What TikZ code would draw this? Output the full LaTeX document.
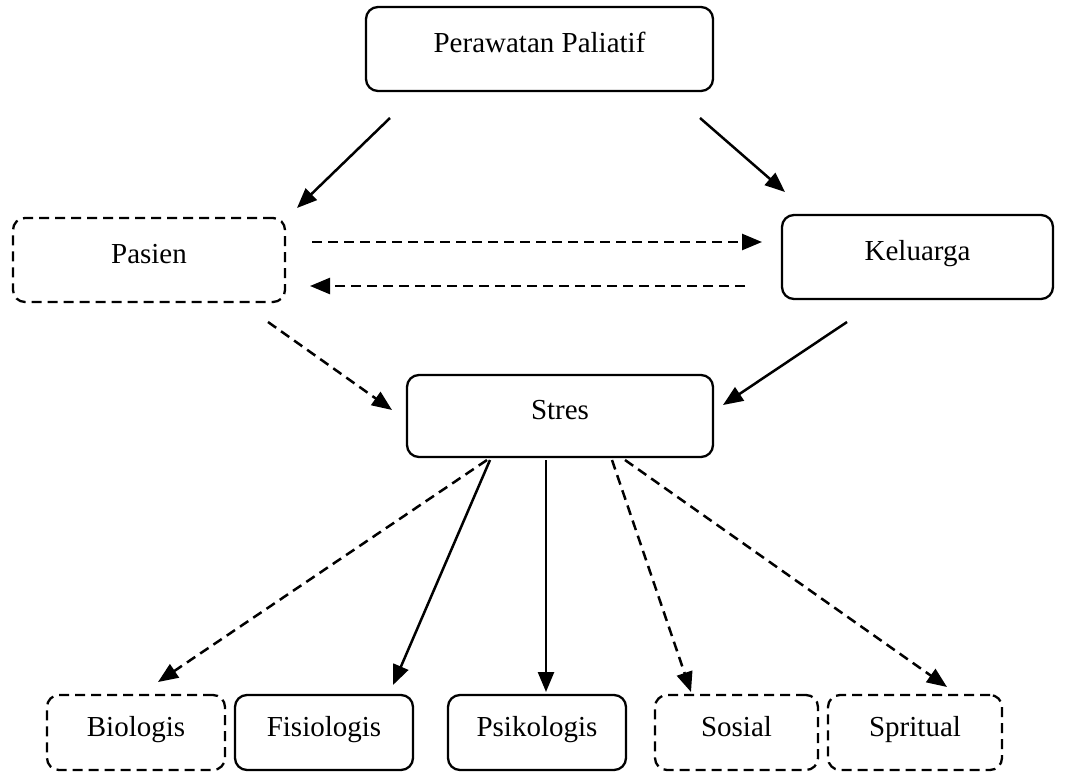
\documentclass[tikz,border=0pt]{standalone}
\usepackage{fontspec}
\setmainfont{Liberation Serif}
\usetikzlibrary{arrows.meta}
\begin{document}
\begin{tikzpicture}[x=1pt,y=-1pt,
  box/.style={draw, line width=2.3pt, rounded corners=12pt, inner sep=0pt,
    font=\fontsize{29}{31}\selectfont, text height=24pt, text depth=17pt},
  dbox/.style={box, dash pattern=on 10pt off 6pt},
  arr/.style={line width=2.5pt, -{Triangle[length=20pt,width=16pt]}},
  darr/.style={arr, dash pattern=on 10pt off 6pt}]
\useasboundingbox (0,0) rectangle (1065,778);
\node[box, minimum width=347pt, minimum height=84pt] (pp) at (539.5,49) {Perawatan Paliatif};
\node[dbox, minimum width=272pt, minimum height=84pt] (pas) at (149,260) {Pasien};
\node[box, minimum width=271pt, minimum height=84pt] (kel) at (917.5,257) {Keluarga};
\node[box, minimum width=306pt, minimum height=82pt] (str) at (560,416) {Stres};
\node[dbox, minimum width=178pt, minimum height=75pt] (bio) at (136,732.5) {Biologis};
\node[box, minimum width=178pt, minimum height=75pt] (fis) at (324,732.5) {Fisiologis};
\node[box, minimum width=178pt, minimum height=75pt] (psi) at (537,732.5) {Psikologis};
\node[dbox, minimum width=163pt, minimum height=75pt] (sos) at (736.5,732.5) {Sosial};
\node[dbox, minimum width=174pt, minimum height=75pt] (spi) at (915,732.5) {Spritual};
% connector end points
\coordinate (a1) at (390,118); \coordinate (a2) at (297,208);
\coordinate (b1) at (700,118); \coordinate (b2) at (785,192);
\coordinate (c1) at (312,242); \coordinate (c2) at (762,242);
\coordinate (d1) at (745,286); \coordinate (d2) at (310,286);
\coordinate (e1) at (268,322); \coordinate (e2) at (392,410);
\coordinate (f1) at (847,322); \coordinate (f2) at (723,405);
\coordinate (g1) at (487,460); \coordinate (g2) at (158,682);
\coordinate (h1) at (490,460); \coordinate (h2) at (393,685);
\coordinate (i1) at (546,460); \coordinate (i2) at (546,692);
\coordinate (j1) at (612,460); \coordinate (j2) at (691,692);
\coordinate (k1) at (625,460); \coordinate (k2) at (947,687);
\draw[arr] (a1) -- (a2);
\draw[arr] (b1) -- (b2);
\draw[darr] (c1) -- (c2);
\draw[darr] (d1) -- (d2);
\draw[darr] (e1) -- (e2);
\draw[arr] (f1) -- (f2);
\draw[darr] (g1) -- (g2);
\draw[arr] (h1) -- (h2);
\draw[arr] (i1) -- (i2);
\draw[darr] (j1) -- (j2);
\draw[darr] (k1) -- (k2);
\end{tikzpicture}
\end{document}
